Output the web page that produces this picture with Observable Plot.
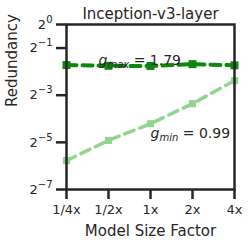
<!DOCTYPE html>
<html><head><meta charset="utf-8">
<script src="https://cdn.jsdelivr.net/npm/d3@7"></script>
<script src="https://cdn.jsdelivr.net/npm/@observablehq/plot@0.6"></script>
<style>
body{margin:0;background:#fff;}
#c svg{display:block;font-family:"DejaVu Sans",sans-serif;}
</style></head>
<body><div id="c"></div>
<script>
const sizes = ["1/4x","1/2x","1x","2x","4x"];
const gmaxVals = [0.3035, 0.297, 0.295, 0.312, 0.301];
const gminVals = [0.0183, 0.0331, 0.0541, 0.0975, 0.192];
const yTicks = [1, 0.5, 0.125, 0.03125, 0.0078125];
const yTickExp = ["0","−1","−3","−5","−7"];
const title = "Inception-v3-layer";
const annoMax = [{x:"1/2x", y:0.35, sub:"max", val:"1.79"}];
const annoMin = [{x:"1x", y:0.040, sub:"min", val:"0.99"}];

const dark = "#0e870e", light = "#93d48f", ink = "#262626";
const gmax = sizes.map((s,i)=>({x:s,y:gmaxVals[i]}));
const gmin = sizes.map((s,i)=>({x:s,y:gminVals[i]}));

const chart = Plot.plot({
  width:250, height:245,
  marginLeft:66, marginRight:16, marginTop:24, marginBottom:56,
  style:{fontFamily:"DejaVu Sans, sans-serif", color:ink, background:"#fff"},
  x:{type:"point", domain:sizes, padding:0},
  y:{type:"log", base:2, domain:[0.0078125,1]},
  marks:[
    Plot.line(gmin,{x:"x",y:"y",stroke:light,strokeWidth:3.5,strokeDasharray:"10,6"}),
    Plot.dot(gmin,{x:"x",y:"y",symbol:"square",fill:light,r:4}),
    Plot.line(gmax,{x:"x",y:"y",stroke:dark,strokeWidth:4,strokeDasharray:"10,6"}),
    Plot.dot(gmax,{x:"x",y:"y",symbol:"square",fill:dark,r:4.5}),
    Plot.text(annoMax,{x:"x",y:"y",text:d=>d.sub,textAnchor:"start",dx:-10,fontSize:14,fill:ink,className:"anno"}),
    Plot.text(annoMin,{x:"x",y:"y",text:d=>d.sub,textAnchor:"start",dx:0,fontSize:14,fill:ink,className:"anno"}),
    Plot.frame({stroke:ink,strokeWidth:2.5}),
    Plot.axisY({ticks:yTicks,tickFormat:d=>"2"+yTickExp[yTicks.indexOf(d)],tickSize:10,tickPadding:4,strokeWidth:2.5,stroke:ink,fontSize:13,label:null,className:"yax"}),
    Plot.axisX({tickSize:10,tickPadding:5,strokeWidth:2.5,stroke:ink,fontSize:13,label:null}),
    Plot.text([title],{frameAnchor:"top",dy:-16,fontSize:15,fill:ink}),
    Plot.text(["Model Size Factor"],{frameAnchor:"bottom",dy:46,fontSize:15,fill:ink}),
    Plot.text(["Redundancy"],{frameAnchor:"left",dx:-54,rotate:-90,fontSize:15,fill:ink})
  ]
});
document.getElementById("c").appendChild(chart);
const ns = "http://www.w3.org/2000/svg";
function span(parent, txt, attrs){
  const s = document.createElementNS(ns,"tspan");
  for (const k in attrs) s.setAttribute(k, attrs[k]);
  s.textContent = txt; parent.appendChild(s);
}
const annos = annoMax.concat(annoMin);
chart.querySelectorAll("g.anno text").forEach((t,i)=>{
  const d = annos[i];
  t.textContent = "";
  span(t,"g",{"font-style":"italic"});
  span(t,d.sub,{"font-style":"italic","font-size":"10","dy":"3"});
  span(t," = "+d.val,{"dy":"-3"});
});
chart.querySelectorAll("g.yax text").forEach((t)=>{
  const s = t.textContent;
  t.textContent = "";
  span(t,"2",{});
  span(t,s.slice(1),{"font-size":"10","dy":"-6"});
});
</script></body></html>
